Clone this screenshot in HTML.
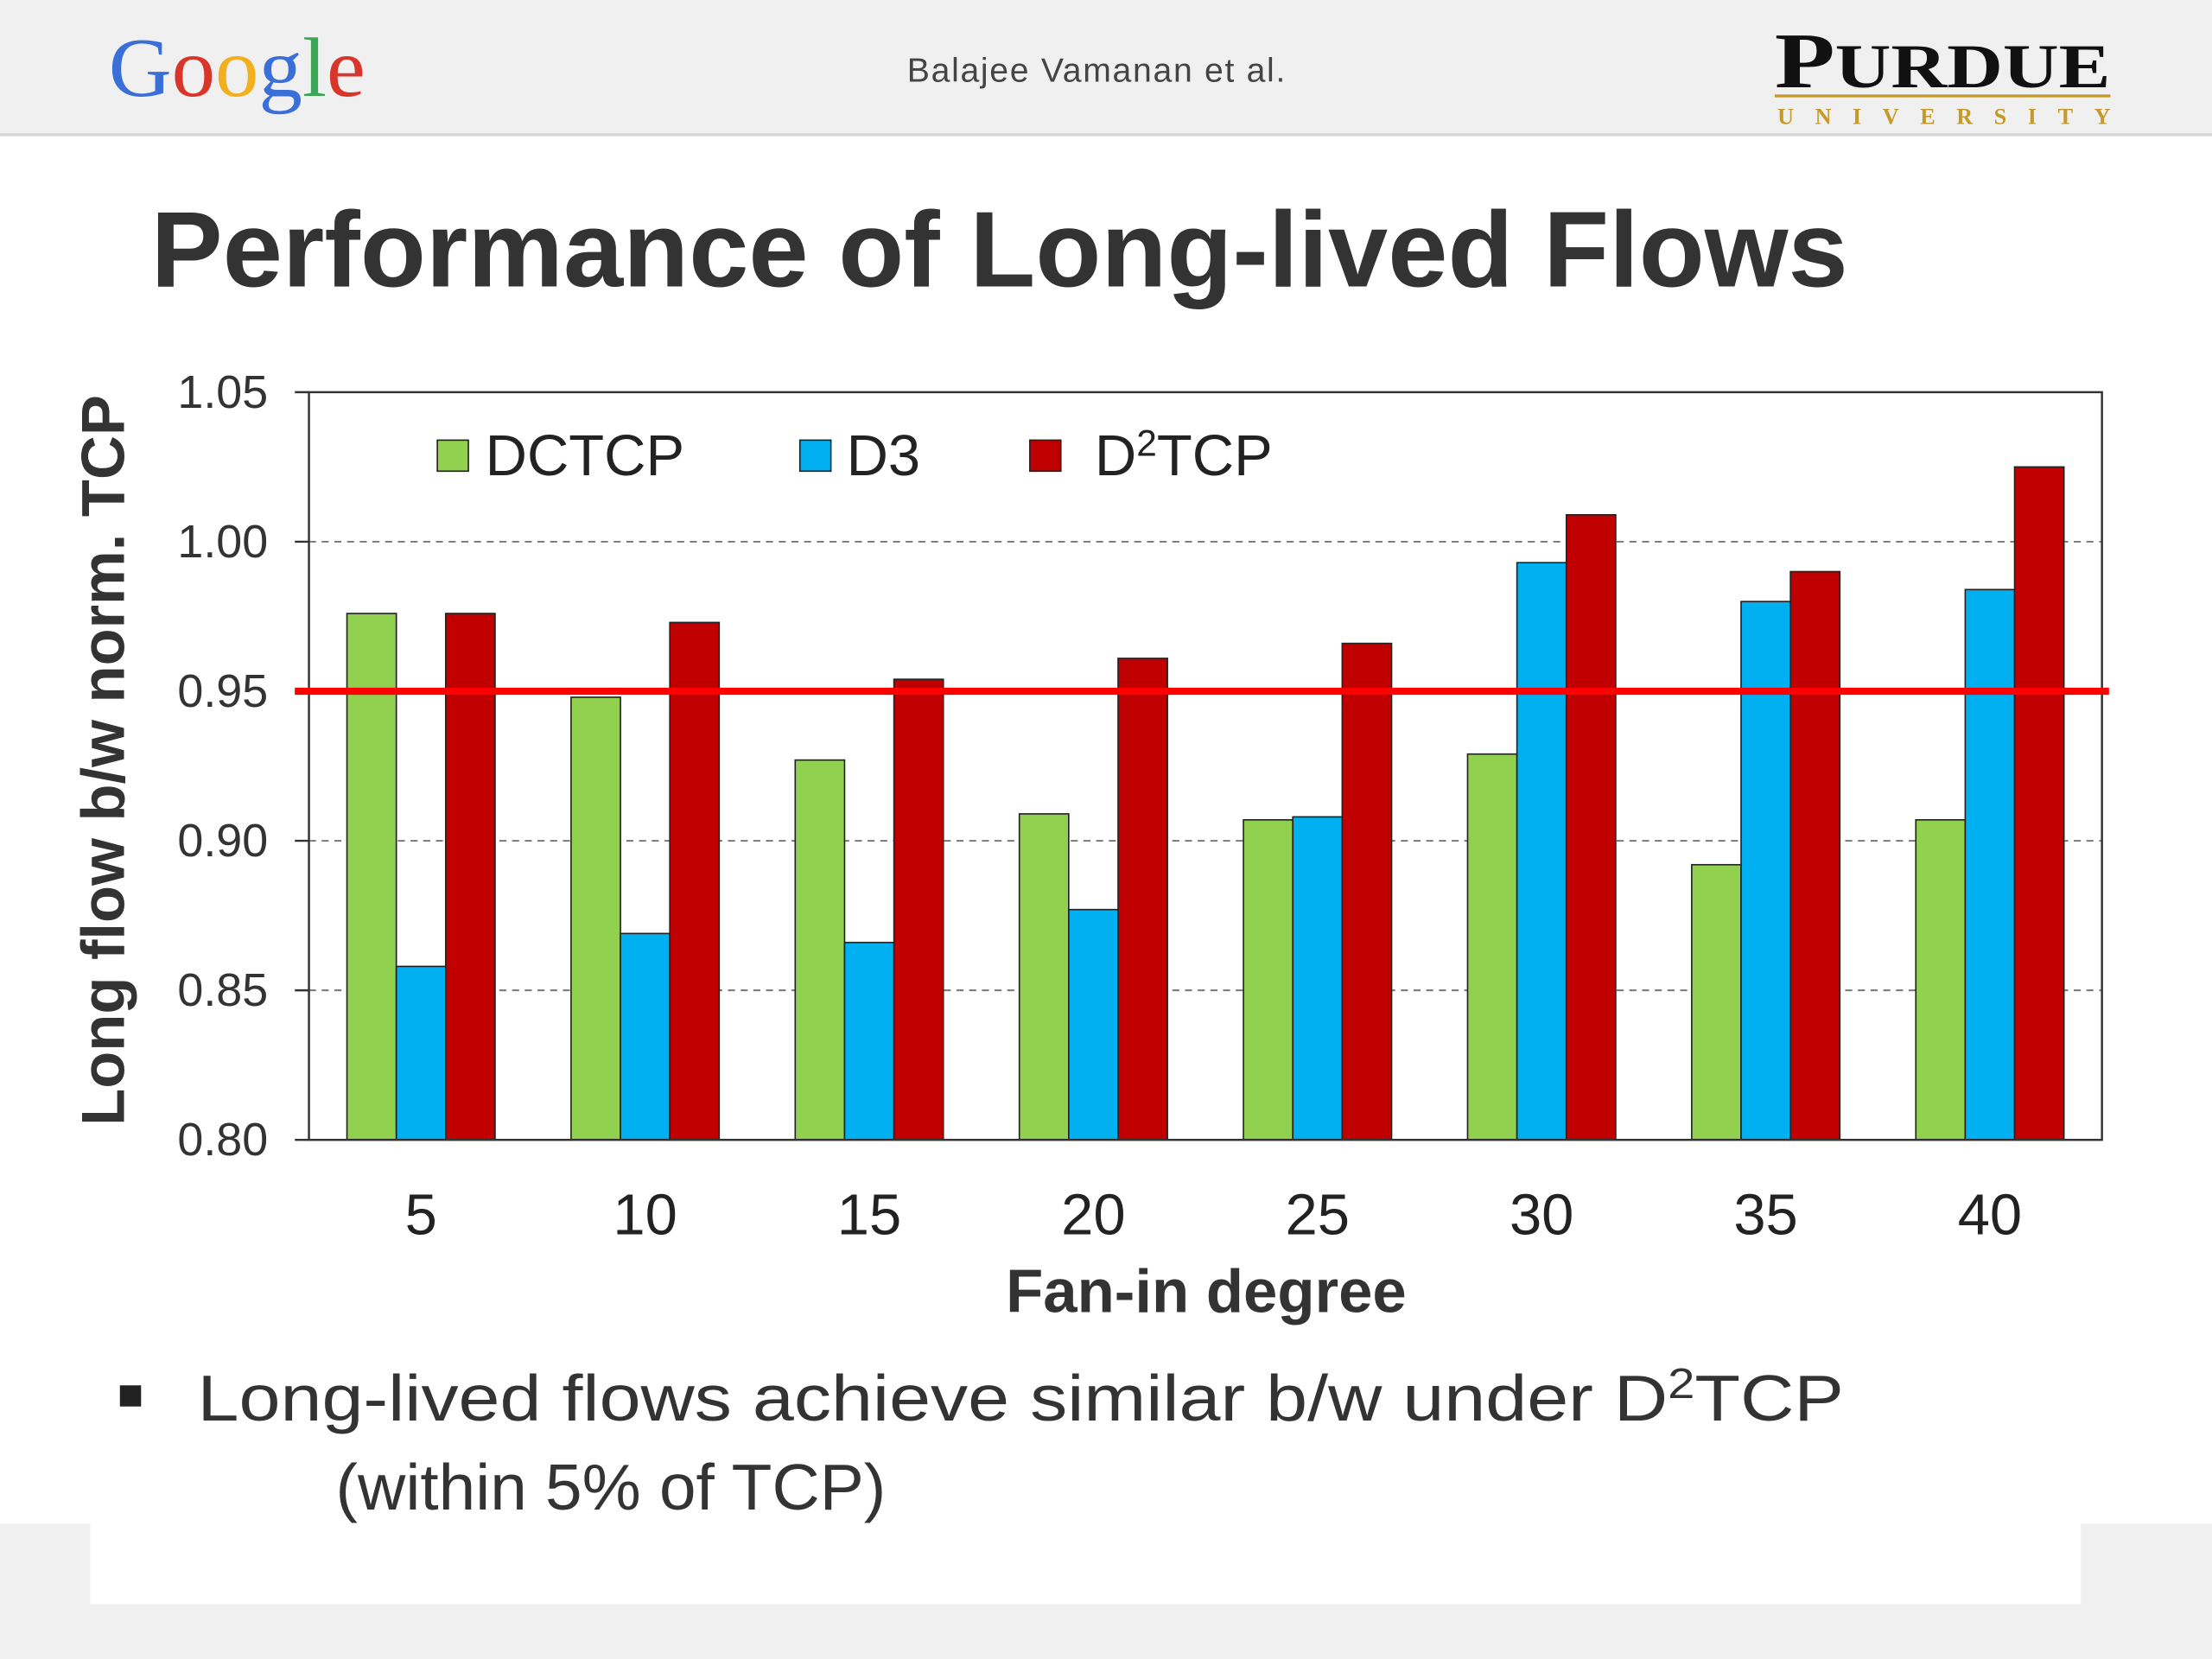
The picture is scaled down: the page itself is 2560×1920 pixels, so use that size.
<!DOCTYPE html>
<html><head><meta charset="utf-8">
<style>
html,body{margin:0;padding:0;width:2560px;height:1920px;overflow:hidden;background:#fff}
svg{display:block;font-family:"Liberation Sans",sans-serif}
</style></head>
<body>
<svg id="s" width="2560" height="1920" viewBox="0 0 1568 1176" xmlns="http://www.w3.org/2000/svg">
<rect x="0" y="0" width="1568" height="95" fill="#f0f0f0"/>
<line x1="0" y1="95.5" x2="1568" y2="95.5" stroke="#d4d4d4" stroke-width="2"/>
<rect x="0" y="1080" width="1568" height="96" fill="#f0f0f0"/>
<rect x="64" y="1080" width="1411" height="57" fill="#fff"/>
<text x="77" y="68" style="font-family:'Liberation Serif',serif;font-size:60px" textLength="182" lengthAdjust="spacingAndGlyphs"><tspan fill="#3a6fd8">G</tspan><tspan fill="#d9362b">o</tspan><tspan fill="#f2b01e">o</tspan><tspan fill="#3a6fd8">g</tspan><tspan fill="#3aa757">l</tspan><tspan fill="#d9362b">e</tspan></text>
<text x="643" y="58" style="font-size:24px" fill="#444" textLength="268">Balajee Vamanan et al.</text>
<g>
<text x="1258" y="62" style="font-family:'Liberation Serif',serif;font-weight:bold" fill="#111" textLength="238" lengthAdjust="spacingAndGlyphs"><tspan style="font-size:56px">P</tspan><tspan style="font-size:44px">URDUE</tspan></text>
<line x1="1258" y1="68" x2="1496" y2="68" stroke="#c59a2a" stroke-width="2"/>
<text x="1260" y="88" style="font-family:'Liberation Serif',serif;font-weight:bold;font-size:16px" fill="#c59a2a" textLength="236">UNIVERSITY</text>
</g>
<text x="107" y="203" style="font-size:76px;font-weight:bold" fill="#333" textLength="1203" lengthAdjust="spacingAndGlyphs">Performance of Long-lived Flows</text>
<g id="chart"></g>
<rect x="85" y="982" width="15" height="15" fill="#222"/>
<text x="140" y="1007" style="font-size:46px" fill="#333" textLength="1167" lengthAdjust="spacingAndGlyphs">Long-lived flows achieve similar b/w under D<tspan style="font-size:30px" dy="-16">2</tspan><tspan dy="16">TCP</tspan></text>
<text x="238" y="1070" style="font-size:46px" fill="#333" textLength="390" lengthAdjust="spacingAndGlyphs">(within 5% of TCP)</text>
</svg>
<script>
const categories=["5","10","15","20","25","30","35","40"];
const dctcp=[0.976,0.948,0.927,0.909,0.907,0.929,0.892,0.907];
const d3=[0.858,0.869,0.866,0.877,0.908,0.993,0.980,0.984];
const d2tcp=[0.976,0.973,0.954,0.961,0.966,1.009,0.990,1.025];
const yTicks=[0.80,0.85,0.90,0.95,1.00,1.05];
const threshold=0.95;
const NS="http://www.w3.org/2000/svg";
const g=document.getElementById('chart');
const L=219,R=1490,T=278,B=808,yMin=0.80,yMax=1.05;
const y=v=>B-(v-yMin)/(yMax-yMin)*(B-T);
const gw=(R-L)/categories.length;
const x=i=>L+gw*(i+0.5);
function mk(tag,at){const e=document.createElementNS(NS,tag);for(const k in at)e.setAttribute(k,at[k]);g.appendChild(e);return e;}
yTicks.forEach(t=>{
  if(t>yMin&&t<yMax){const l=mk('line',{x1:L,x2:R,y1:y(t),y2:y(t),stroke:'#777','stroke-width':1.2,'stroke-dasharray':'5,4'});
  
  }
  const tk=mk('line',{x1:209,x2:L,y1:y(t),y2:y(t),stroke:'#333','stroke-width':1.5});
  
  
  const tx=mk('text',{x:190,y:y(t)+11,'text-anchor':'end',style:'font-size:33px',fill:'#333'});
  tx.textContent=t.toFixed(2);
  
  
});
const series=[[dctcp,'#92d050','dctcp'],[d3,'#00b0f0','d3'],[d2tcp,'#c00000','d2tcp']];
const bw=35;
categories.forEach((c,i)=>{
  series.forEach(([arr,col,nm],j)=>{
    const v=arr[i];
    const r=mk('rect',{x:x(i)-1.5*bw+j*bw,y:y(v),width:bw,height:B-y(v),fill:col,stroke:'#222','stroke-width':1});
    
    
  });
  const tx=mk('text',{x:x(i),y:875,'text-anchor':'middle',style:'font-size:41px',fill:'#222'});
  tx.textContent=c;
  
  
});
const ax=mk('rect',{x:L,y:T,width:R-L,height:B-T,fill:'none',stroke:'#333','stroke-width':1.5});


const th=mk('line',{x1:209,x2:1495,y1:y(threshold),y2:y(threshold),stroke:'#ff0000','stroke-width':5});


const leg=[['DCTCP','#92d050',310,344],['D3','#00b0f0',567,600],['D2TCP','#c00000',730,776]];
leg.forEach(([n,col,sx,tx0])=>{
  const r=mk('rect',{x:sx,y:312,width:22,height:22,fill:col,stroke:'#222','stroke-width':1});
  
  
  const t=mk('text',{x:tx0,y:337,style:'font-size:41px',fill:'#222'});
  if(n==='D2TCP'){t.innerHTML='D<tspan style="font-size:26px" dy="-14">2</tspan><tspan dy="14">TCP</tspan>';}
  else t.textContent=n;
  
  
});
const xt=mk('text',{x:855,y:930,'text-anchor':'middle',style:'font-size:43px;font-weight:bold',fill:'#333',textLength:284,lengthAdjust:'spacingAndGlyphs'});
xt.textContent='Fan-in degree';


const yt=mk('text',{x:0,y:0,'text-anchor':'middle',style:'font-size:43px;font-weight:bold',fill:'#333',textLength:518,lengthAdjust:'spacingAndGlyphs',transform:'translate(88,539) rotate(-90)'});
yt.textContent='Long flow b/w norm. TCP';


</script>
</body></html>
